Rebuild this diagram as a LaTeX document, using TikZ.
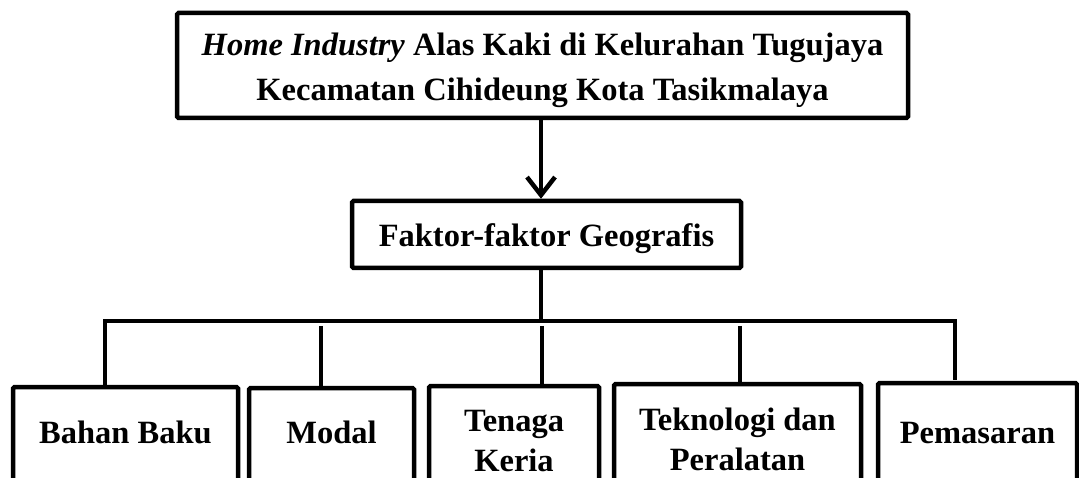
\documentclass[tikz,border=0pt]{standalone}
\usepackage{fontspec}
\setmainfont{Liberation Serif}
\usetikzlibrary{arrows.meta}
\begin{document}
\begin{tikzpicture}[x=1pt,y=-1pt,
  box/.style={draw, line width=4.5pt, rounded corners=1.5pt, inner sep=0pt, align=center,
    font=\bfseries\fontsize{32.5}{40}\selectfont},
  conn/.style={line width=4.5pt},
]
\useasboundingbox (0,0) rectangle (1079,478);
\clip (0,0) rectangle (1079,478);
\node[box, minimum width=731pt, minimum height=105pt, font=\bfseries\fontsize{32.5}{45}\selectfont,
  text height=78pt, text depth=7pt] (top) at (542.5,65.5)
  {\textit{Home Industry} Alas Kaki di Kelurahan Tugujaya\\Kecamatan Cihideung Kota Tasikmalaya};
\node[box, minimum width=389pt, minimum height=67pt, text height=28pt, text depth=3.5pt] (mid) at (546.5,234.5) {Faktor-faktor Geografis};
\node[box, minimum width=225pt, minimum height=120pt, text height=16pt, text depth=24pt] (b1) at (125.5,447) {Bahan Baku};
\node[box, minimum width=165pt, minimum height=120pt, text height=15pt, text depth=25pt] (b2) at (331.5,448) {Modal};
\node[box, minimum width=170pt, minimum height=120pt, text height=63pt, text depth=12pt] (b3) at (514,446) {Tenaga\\Keria};
\node[box, minimum width=247pt, minimum height=120pt, text height=63pt, text depth=10pt] (b4) at (737.5,444) {Teknologi dan\\Peralatan};
\node[box, minimum width=199pt, minimum height=120pt, text height=20pt, text depth=20pt] (b5) at (977.5,443) {Pemasaran};
\coordinate (hub) at (541,321);
\coordinate (bl) at (105,321);
\coordinate (br) at (955,321);
\coordinate (brend) at (955,380);
\coordinate (d2) at (321,326);
\coordinate (d3) at (542,326);
\coordinate (d4) at (740,326);
\draw[conn, -{Straight Barb[length=18pt,width=28pt]}] (top.south -| hub) -- (mid.north -| hub);
\draw[conn] (mid.south -| hub) -- (hub);
\draw[conn] (b1.north -| bl) -- (bl) -- (br) -- (brend);
\draw[conn] (d2) -- (d2 |- b2.north);
\draw[conn] (d3) -- (d3 |- b3.north);
\draw[conn] (d4) -- (d4 |- b4.north);
\end{tikzpicture}
\end{document}
